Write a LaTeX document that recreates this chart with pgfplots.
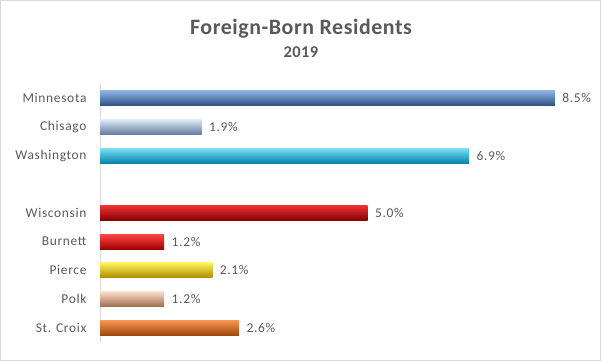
\documentclass[border=0pt]{standalone}
\usepackage{pgfplots}
\pgfplotsset{compat=1.18}
\usepackage{fontspec}
\setmainfont{Carlito}
\newfontfamily\titlefont[LetterSpace=2.5]{Carlito}
\newfontfamily\labelfont[LetterSpace=5]{Carlito}
\definecolor{txt}{HTML}{595959}
\definecolor{axisgray}{HTML}{D9D9D9}
\begin{document}
\begin{tikzpicture}
\path[use as bounding box] (0,0) rectangle (601bp,361bp);
\draw[axisgray, line width=0.8bp] (0.5bp,0.5bp) rectangle (600.5bp,360.5bp);
\node[text=txt, font=\titlefont\fontsize{22}{24}\selectfont\bfseries] at (301bp,332bp) {Foreign-Born Residents};
\node[text=txt, font=\titlefont\fontsize{16.5}{18}\selectfont\bfseries] at (301bp,309bp) {2019};
\begin{axis}[
  at={(100bp,19bp)}, anchor=south west,
  scale only axis, width=481.5bp, height=258bp,
  xmin=0, xmax=9, ymin=-0.5, ymax=8.5,
  axis x line=none, axis y line*=left,
  y axis line style={draw=axisgray, line width=0.8bp, -},
  ytick={0,1,2,3,4,6,7,8},
  yticklabels={St. Croix,Polk,Pierce,Burnett,Wisconsin,Washington,Chisago,Minnesota},
  major tick length=0pt,
  yticklabel style={text=txt, font=\labelfont\fontsize{13.5}{15}\selectfont, xshift=-10bp},
  xbar, bar width=15bp, bar shift=0pt,
  /pgf/number format/assume math mode=true,
  nodes near coords={\pgfmathprintnumber[fixed,fixed zerofill,precision=1,assume math mode=true]{\pgfplotspointmeta}\%},
  nodes near coords style={text=txt, font=\labelfont\fontsize{13.5}{15}\selectfont, xshift=4bp},
  clip=false,
]
\addplot[draw=none, top color={rgb,255:red,140;green,176;blue,224}, bottom color={rgb,255:red,42;green,80;blue,132}] coordinates {(8.5,8)};
\addplot[draw=none, top color={rgb,255:red,222;green,233;blue,246}, bottom color={rgb,255:red,96;green,122;blue,160}] coordinates {(1.9,7)};
\addplot[draw=none, top color={rgb,255:red,120;green,225;blue,248}, bottom color={rgb,255:red,8;green,130;blue,168}] coordinates {(6.9,6)};
\addplot[draw=none, top color={rgb,255:red,240;green,50;blue,50}, bottom color={rgb,255:red,130;green,0;blue,0}] coordinates {(5.0,4)};
\addplot[draw=none, top color={rgb,255:red,255;green,70;blue,70}, bottom color={rgb,255:red,160;green,0;blue,0}] coordinates {(1.2,3)};
\addplot[draw=none, top color={rgb,255:red,255;green,240;blue,90}, bottom color={rgb,255:red,170;green,140;blue,0}] coordinates {(2.1,2)};
\addplot[draw=none, top color={rgb,255:red,252;green,222;blue,200}, bottom color={rgb,255:red,160;green,110;blue,80}] coordinates {(1.2,1)};
\addplot[draw=none, top color={rgb,255:red,248;green,150;blue,80}, bottom color={rgb,255:red,160;green,72;blue,16}] coordinates {(2.6,0)};
\end{axis}
\end{tikzpicture}
\end{document}
